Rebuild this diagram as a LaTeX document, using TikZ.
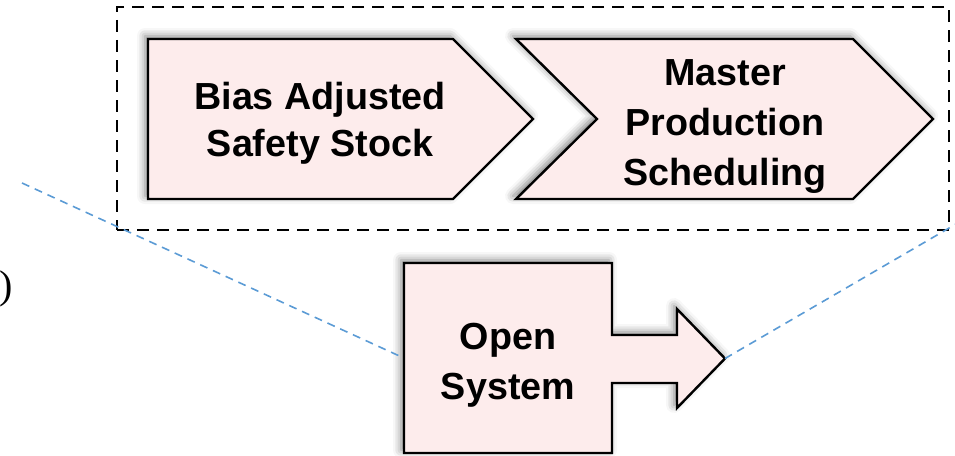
\documentclass[tikz,border=0pt]{standalone}
\usepackage{fontspec}
\setmainfont{Liberation Sans}
\newfontfamily\parenfont{Liberation Serif}
\usetikzlibrary{shadows.blur}
\definecolor{boxpink}{RGB}{253,236,236}
\definecolor{linkblue}{RGB}{91,155,213}

\begin{document}
\begin{tikzpicture}[x=1pt,y=-1pt,
    block/.style={draw=black,line width=2.4pt,fill=boxpink,line join=miter,
        blur shadow={shadow xshift=-3pt,shadow yshift=3pt,shadow blur radius=8pt,shadow opacity=50}},
    blocktext/.style={font=\bfseries\fontsize{37.7}{50}\selectfont,align=center,inner sep=0pt},
    link/.style={draw=linkblue,line width=1.6pt,dash pattern=on 8pt off 6pt}]
    \useasboundingbox (0,0) rectangle (955,455);

    % dashed frame round the two steps
    \node[draw,line width=2.2pt,dash pattern=on 12pt off 8pt,minimum width=832pt,minimum height=223pt,
          inner sep=0pt,outer sep=0pt] (frame) at (533,118.5) {};

    % chevrons
    \draw[block] (148,39) -- (453,39) -- (533,119) -- (453,199) -- (148,199) -- cycle;
    \draw[block] (516,39) -- (853,39) -- (933,119) -- (853,199) -- (516,199) -- (597,119) -- cycle;
    \node[blocktext,font=\bfseries\fontsize{37.7}{47}\selectfont] (bias) at (320,123) {Bias Adjusted\\Safety Stock};
    \node[blocktext] (mps) at (725,127) {Master\\Production\\Scheduling};

    % open system box with arrow
    \draw[block] (404,263) -- (612,263) -- (612,335) -- (677,335) -- (677,309) -- (725,358.5)
        -- (677,408) -- (677,383) -- (612,383) -- (612,453) -- (404,453) -- cycle;
    \coordinate (tip) at (725,358.5);
    \node[blocktext,minimum width=208pt,minimum height=190pt] (opensys) at (508,358) {};
    \node[blocktext] (opentext) at (508,365) {Open\\System};

    \node[font=\parenfont\fontsize{40}{40}\selectfont,anchor=east,inner sep=0pt] (paren) at (13,289) {)};

    % zoom lines
    \coordinate (lfar) at (22,183);
    \coordinate (rfar) at (956,224);
    \draw[link] (lfar) -- (opensys.west);
    \draw[link] (tip) -- (rfar);
\end{tikzpicture}
\end{document}
